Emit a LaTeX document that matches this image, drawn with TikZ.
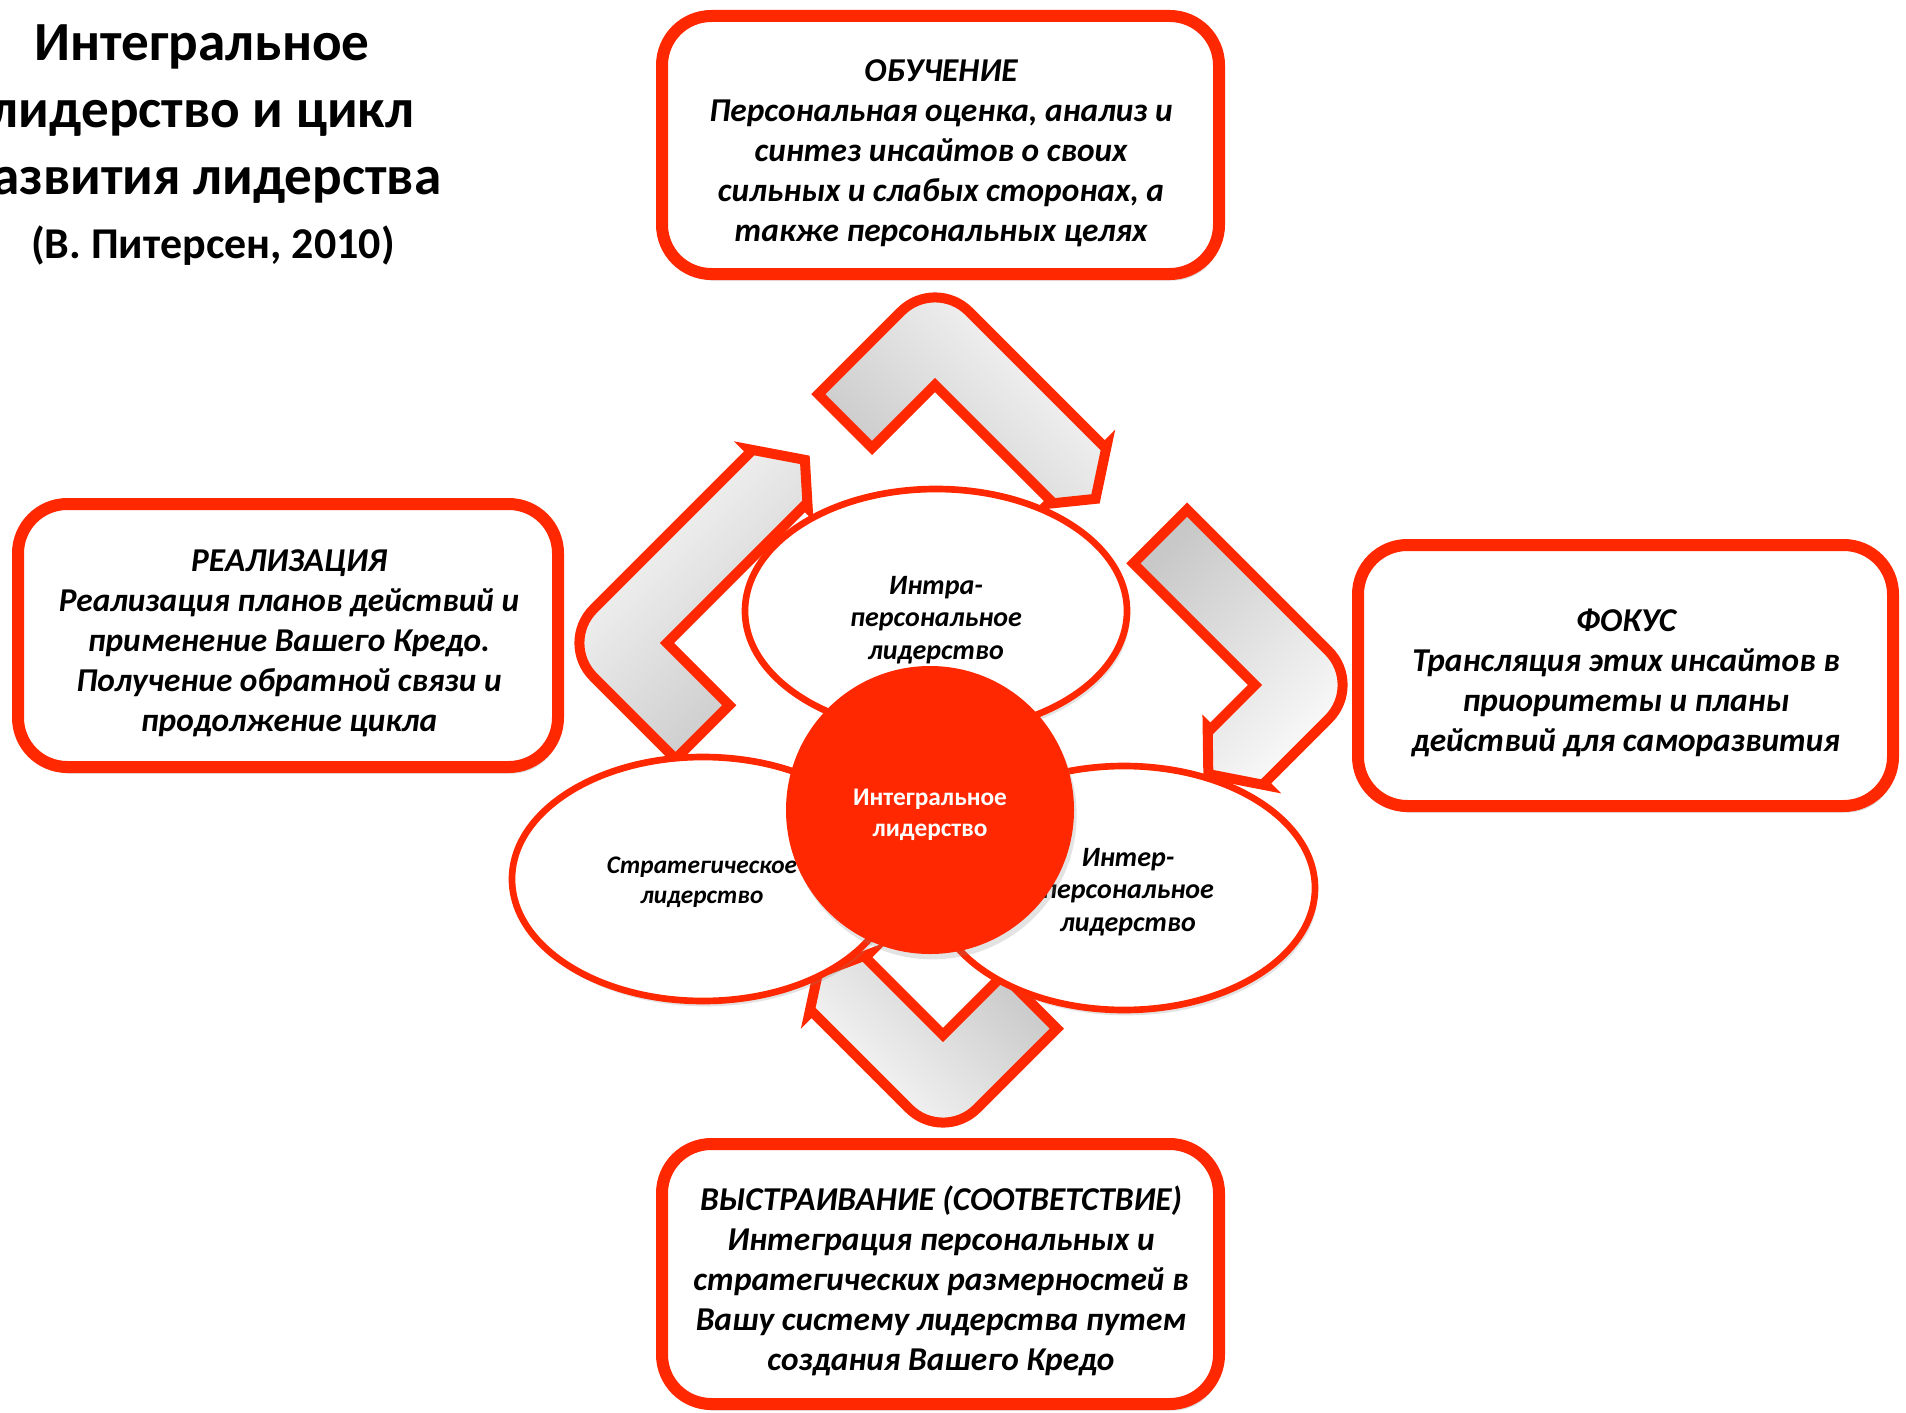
\documentclass[tikz,border=0pt]{standalone}
\usepackage{fontspec}
\setmainfont{Carlito}
\usetikzlibrary{shapes.geometric,shadows}
\definecolor{rd}{RGB}{255,40,0}
\definecolor{lightg}{RGB}{250,250,250}
\definecolor{darkg}{RGB}{200,200,200}
\tikzset{
  box/.style={draw=rd, line width=9pt, rounded corners=37pt, fill=white,
    inner sep=0pt,
    drop shadow={opacity=0.28, shadow xshift=2pt, shadow yshift=-5pt}},
  boxtext/.style={align=center, inner sep=0pt,
    font=\fontsize{25}{30}\selectfont\bfseries\itshape},
  oval/.style={ellipse, draw=rd, line width=5pt, fill=white,
    minimum width=286.5pt, minimum height=183pt, inner sep=0pt,
    drop shadow={opacity=0.22, shadow xshift=2pt, shadow yshift=-4pt}},
  ovaltext/.style={align=center, inner sep=0pt,
    font=\fontsize{21}{24.6}\selectfont\bfseries\itshape},
  hub/.style={circle, fill=rd, minimum size=216pt, inner sep=0pt,
    drop shadow={opacity=0.22, shadow xshift=2pt, shadow yshift=-4pt}},
  hubtext/.style={align=center, inner sep=0pt, text=white,
    font=\fontsize{19}{23}\selectfont\bfseries},
  chev/.style={draw=rd, line width=7.5pt, top color=lightg, bottom color=darkg,
    drop shadow={opacity=0.18, shadow xshift=2pt, shadow yshift=-3pt}},
  ttl/.style={align=center, inner sep=0pt,
    font=\fontsize{41.4}{50.5}\selectfont\bfseries},
}
% #1 inner vertex, #2 head-arm direction, #3 outward normal, #4 tail length,
% #5 head length, #6 tip height, #7 tip offset, #8 shading angle
\newcommand\cyclearrow[8]{%
  \begin{scope}[shift={#1}, x={#2}, y={#3}]
    \path[chev, shading angle=#8] (0,0) -- (0,-#4) -- (-76,-#4) -- (-76,28)
      .. controls (-76,54.5) and (-54.5,76) .. (-28,76) -- (#5,76) -- (#5,79)
      -- ({#5+#6},#7) -- (#5,-4) -- (#5,0) -- cycle;
  \end{scope}}
\begin{document}
\begin{tikzpicture}[x=0.75pt, y=-0.75pt]
\useasboundingbox (0,0) rectangle (1906,1413);
\fill[white] (0,0) rectangle (1906,1413);

% title
\node[ttl] (title) at (202,114) {Интегральное\\лидерство и цикл\\развития лидерства};
\node[inner sep=0pt, font=\fontsize{33}{38}\selectfont\bfseries] (author) at (213,246) {(В. Питерсен, 2010)};

% stage boxes
\node[box, minimum width=417.75pt, minimum height=193.5pt] (learn) at (940.5,145) {};
\node[boxtext] (learntext) at (941,153)
  {ОБУЧЕНИЕ\\Персональная оценка, анализ и\\синтез инсайтов о своих\\сильных и слабых сторонах, а\\также персональных целях};
\node[box, minimum width=405pt, minimum height=197.25pt] (real) at (288,635.5) {};
\node[boxtext] (realtext) at (289,643.5)
  {РЕАЛИЗАЦИЯ\\Реализация планов действий и\\применение Вашего Кредо.\\Получение обратной связи и\\продолжение цикла};
\node[box, minimum width=401.25pt, minimum height=195.75pt] (focus) at (1625.5,675.5) {};
\node[boxtext] (focustext) at (1626,682.5)
  {ФОКУС\\Трансляция этих инсайтов в\\приоритеты и планы\\действий для саморазвития};
\node[box, minimum width=417.75pt, minimum height=195pt] (align) at (940.5,1274) {};
\node[boxtext] (aligntext) at (941,1280.5)
  {ВЫСТРАИВАНИЕ (СООТВЕТСТВИЕ)\\Интеграция персональных и\\стратегических размерностей в\\Вашу систему лидерства путем\\создания Вашего Кредо};

% cycle arrows
\cyclearrow{(935,385)}{(0.5303pt,-0.5303pt)}{(0.5303pt,0.5303pt)}{89}{164}{30}{33}{-45}
\cyclearrow{(1255,685)}{(-0.5303pt,-0.5303pt)}{(0.5303pt,-0.5303pt)}{172}{63}{33}{30}{-135}
\cyclearrow{(943,1035)}{(-0.5303pt,0.5303pt)}{(-0.5303pt,-0.5303pt)}{85}{110}{22}{45}{135}
\cyclearrow{(667,643)}{(0.5303pt,0.5303pt)}{(-0.5303pt,0.5303pt)}{88}{195}{32}{32}{45}

% leadership ellipses
\node[oval] (intra) at (936,611) {};
\node[ovaltext] (intratext) at (936,620) {Интра-\\персональное\\лидерство};
\node[oval] (strat) at (703,879) {};
\node[ovaltext, font=\fontsize{19}{22.8}\selectfont\bfseries\itshape] (strattext) at (702,882) {Стратегическое\\лидерство};
\node[oval] (inter) at (1124,888) {};
\node[ovaltext] (intertext) at (1128,892) {Интер-\\персональное\\лидерство};

% centre
\node[hub] (core) at (930,810) {};
\node[hubtext] (coretext) at (930,815) {Интегральное\\лидерство};
\end{tikzpicture}
\end{document}
